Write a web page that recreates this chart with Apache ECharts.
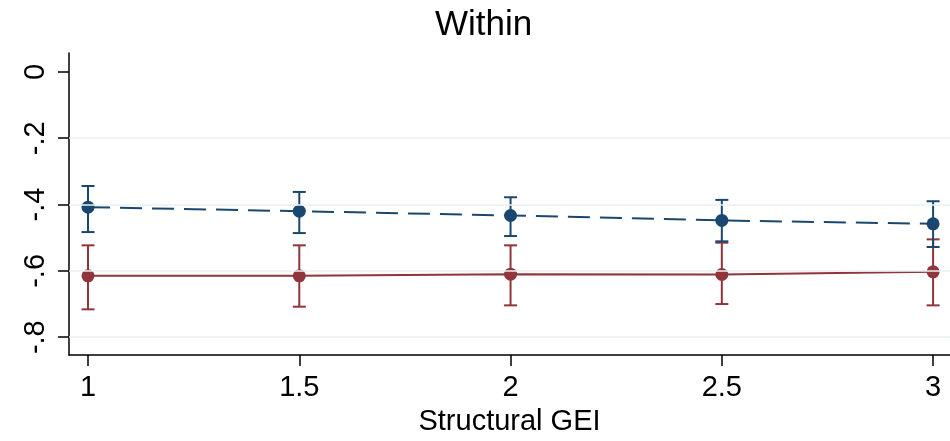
<!DOCTYPE html>
<html>
<head>
<meta charset="utf-8">
<script src="https://cdn.jsdelivr.net/npm/echarts@6/dist/echarts.min.js"></script>
<style>html,body{margin:0;padding:0;background:#fff}#c{width:950px;height:441px}</style>
</head>
<body>
<div id="c"></div>
<script>
const xValues = [1, 1.5, 2, 2.5, 3];
const xTickValues = [1, 1.5, 2, 2.5, 3];
const yTickValues = [-0.8, -0.6, -0.4, -0.2, 0];
const yTickLabels = ['-.8', '-.6', '-.4', '-.2', '0'];
const yGridValues = [-0.8, -0.6, -0.4, -0.2];

const blueMean = [-0.408, -0.420, -0.433, -0.448, -0.458];
const blueLo   = [-0.483, -0.486, -0.495, -0.511, -0.528];
const blueHi   = [-0.344, -0.362, -0.378, -0.386, -0.390];
const redMean  = [-0.615, -0.615, -0.610, -0.611, -0.603];
const redLo    = [-0.716, -0.708, -0.704, -0.700, -0.704];
const redHi    = [-0.523, -0.523, -0.523, -0.515, -0.505];

const BLUE = '#1a476f', RED = '#90353b', GRID = '#eaf2f3';
const FONT = 'Liberation Sans, Arial, sans-serif';

function errorBar(color) {
  return function (params, api) {
    const x = api.value(0), lo = api.value(1), hi = api.value(2);
    const a = api.coord([x, lo]), b = api.coord([x, hi]);
    const w = 6.5;
    const st = { stroke: color, lineWidth: 2 };
    return { type: 'group', children: [
      { type: 'line', shape: { x1: a[0], y1: a[1], x2: b[0], y2: b[1] }, style: st },
      { type: 'line', shape: { x1: a[0] - w, y1: a[1], x2: a[0] + w, y2: a[1] }, style: st },
      { type: 'line', shape: { x1: b[0] - w, y1: b[1], x2: b[0] + w, y2: b[1] }, style: st }
    ]};
  };
}

const chart = echarts.init(document.getElementById('c'), null, { renderer: 'canvas' });
chart.setOption({
  animation: false,
  backgroundColor: '#fff',
  title: { text: 'Within', left: 430, top: 3,
    textStyle: { fontFamily: FONT, fontSize: 35, fontWeight: 'normal', color: '#000' } },
  grid: { left: 69, right: 0, top: 53, bottom: 84 },
  xAxis: {
    type: 'value', min: 0.955, max: 3.040,
    name: 'Structural GEI', nameLocation: 'middle', nameGap: 46,
    nameTextStyle: { fontFamily: FONT, fontSize: 29, color: '#000' },
    axisLine: { show: true, onZero: false, lineStyle: { color: '#000', width: 1.5 } },
    axisTick: { show: true, length: 11, customValues: xTickValues, lineStyle: { color: '#000', width: 1.5 } },
    axisLabel: { show: true, customValues: xTickValues, margin: 18,
      fontFamily: FONT, fontSize: 29, color: '#000',
      formatter: v => String(v) },
    splitLine: { show: false }
  },
  yAxis: {
    type: 'value', min: -0.854, max: 0.057,
    axisLine: { show: true, onZero: false, lineStyle: { color: '#000', width: 1.5 } },
    axisTick: { show: true, length: 11, customValues: yTickValues, lineStyle: { color: '#000', width: 1.5 } },
    axisLabel: { show: true, customValues: yTickValues, rotate: 90, margin: 19,
      fontFamily: FONT, fontSize: 29, color: '#000',
      formatter: v => { const i = yTickValues.findIndex(t => Math.abs(t - v) < 1e-6); return i >= 0 ? yTickLabels[i] : ''; } },
    splitLine: { show: false }
  },
  series: [
    { type: 'line', data: [], silent: true,
      markLine: { silent: true, symbol: ['none', 'none'], label: { show: false },
        lineStyle: { color: GRID, width: 1.5, type: 'solid' },
        data: yGridValues.map(v => ({ yAxis: v })) } },
    { type: 'custom', renderItem: errorBar(RED), encode: { x: 0, y: [1, 2] },
      data: xValues.map((x, i) => [x, redLo[i], redHi[i]]), z: 3 },
    { type: 'custom', renderItem: errorBar(BLUE), encode: { x: 0, y: [1, 2] },
      data: xValues.map((x, i) => [x, blueLo[i], blueHi[i]]), z: 3 },
    { type: 'line', data: xValues.map((x, i) => [x, redMean[i]]), z: 4,
      symbol: 'circle', symbolSize: 13, itemStyle: { color: RED },
      lineStyle: { color: RED, width: 2, type: 'solid' } },
    { type: 'line', data: xValues.map((x, i) => [x, blueMean[i]]), z: 4,
      symbol: 'circle', symbolSize: 13, itemStyle: { color: BLUE },
      lineStyle: { color: BLUE, width: 2, type: [22, 10] } }
  ]
});
</script>
</body>
</html>
